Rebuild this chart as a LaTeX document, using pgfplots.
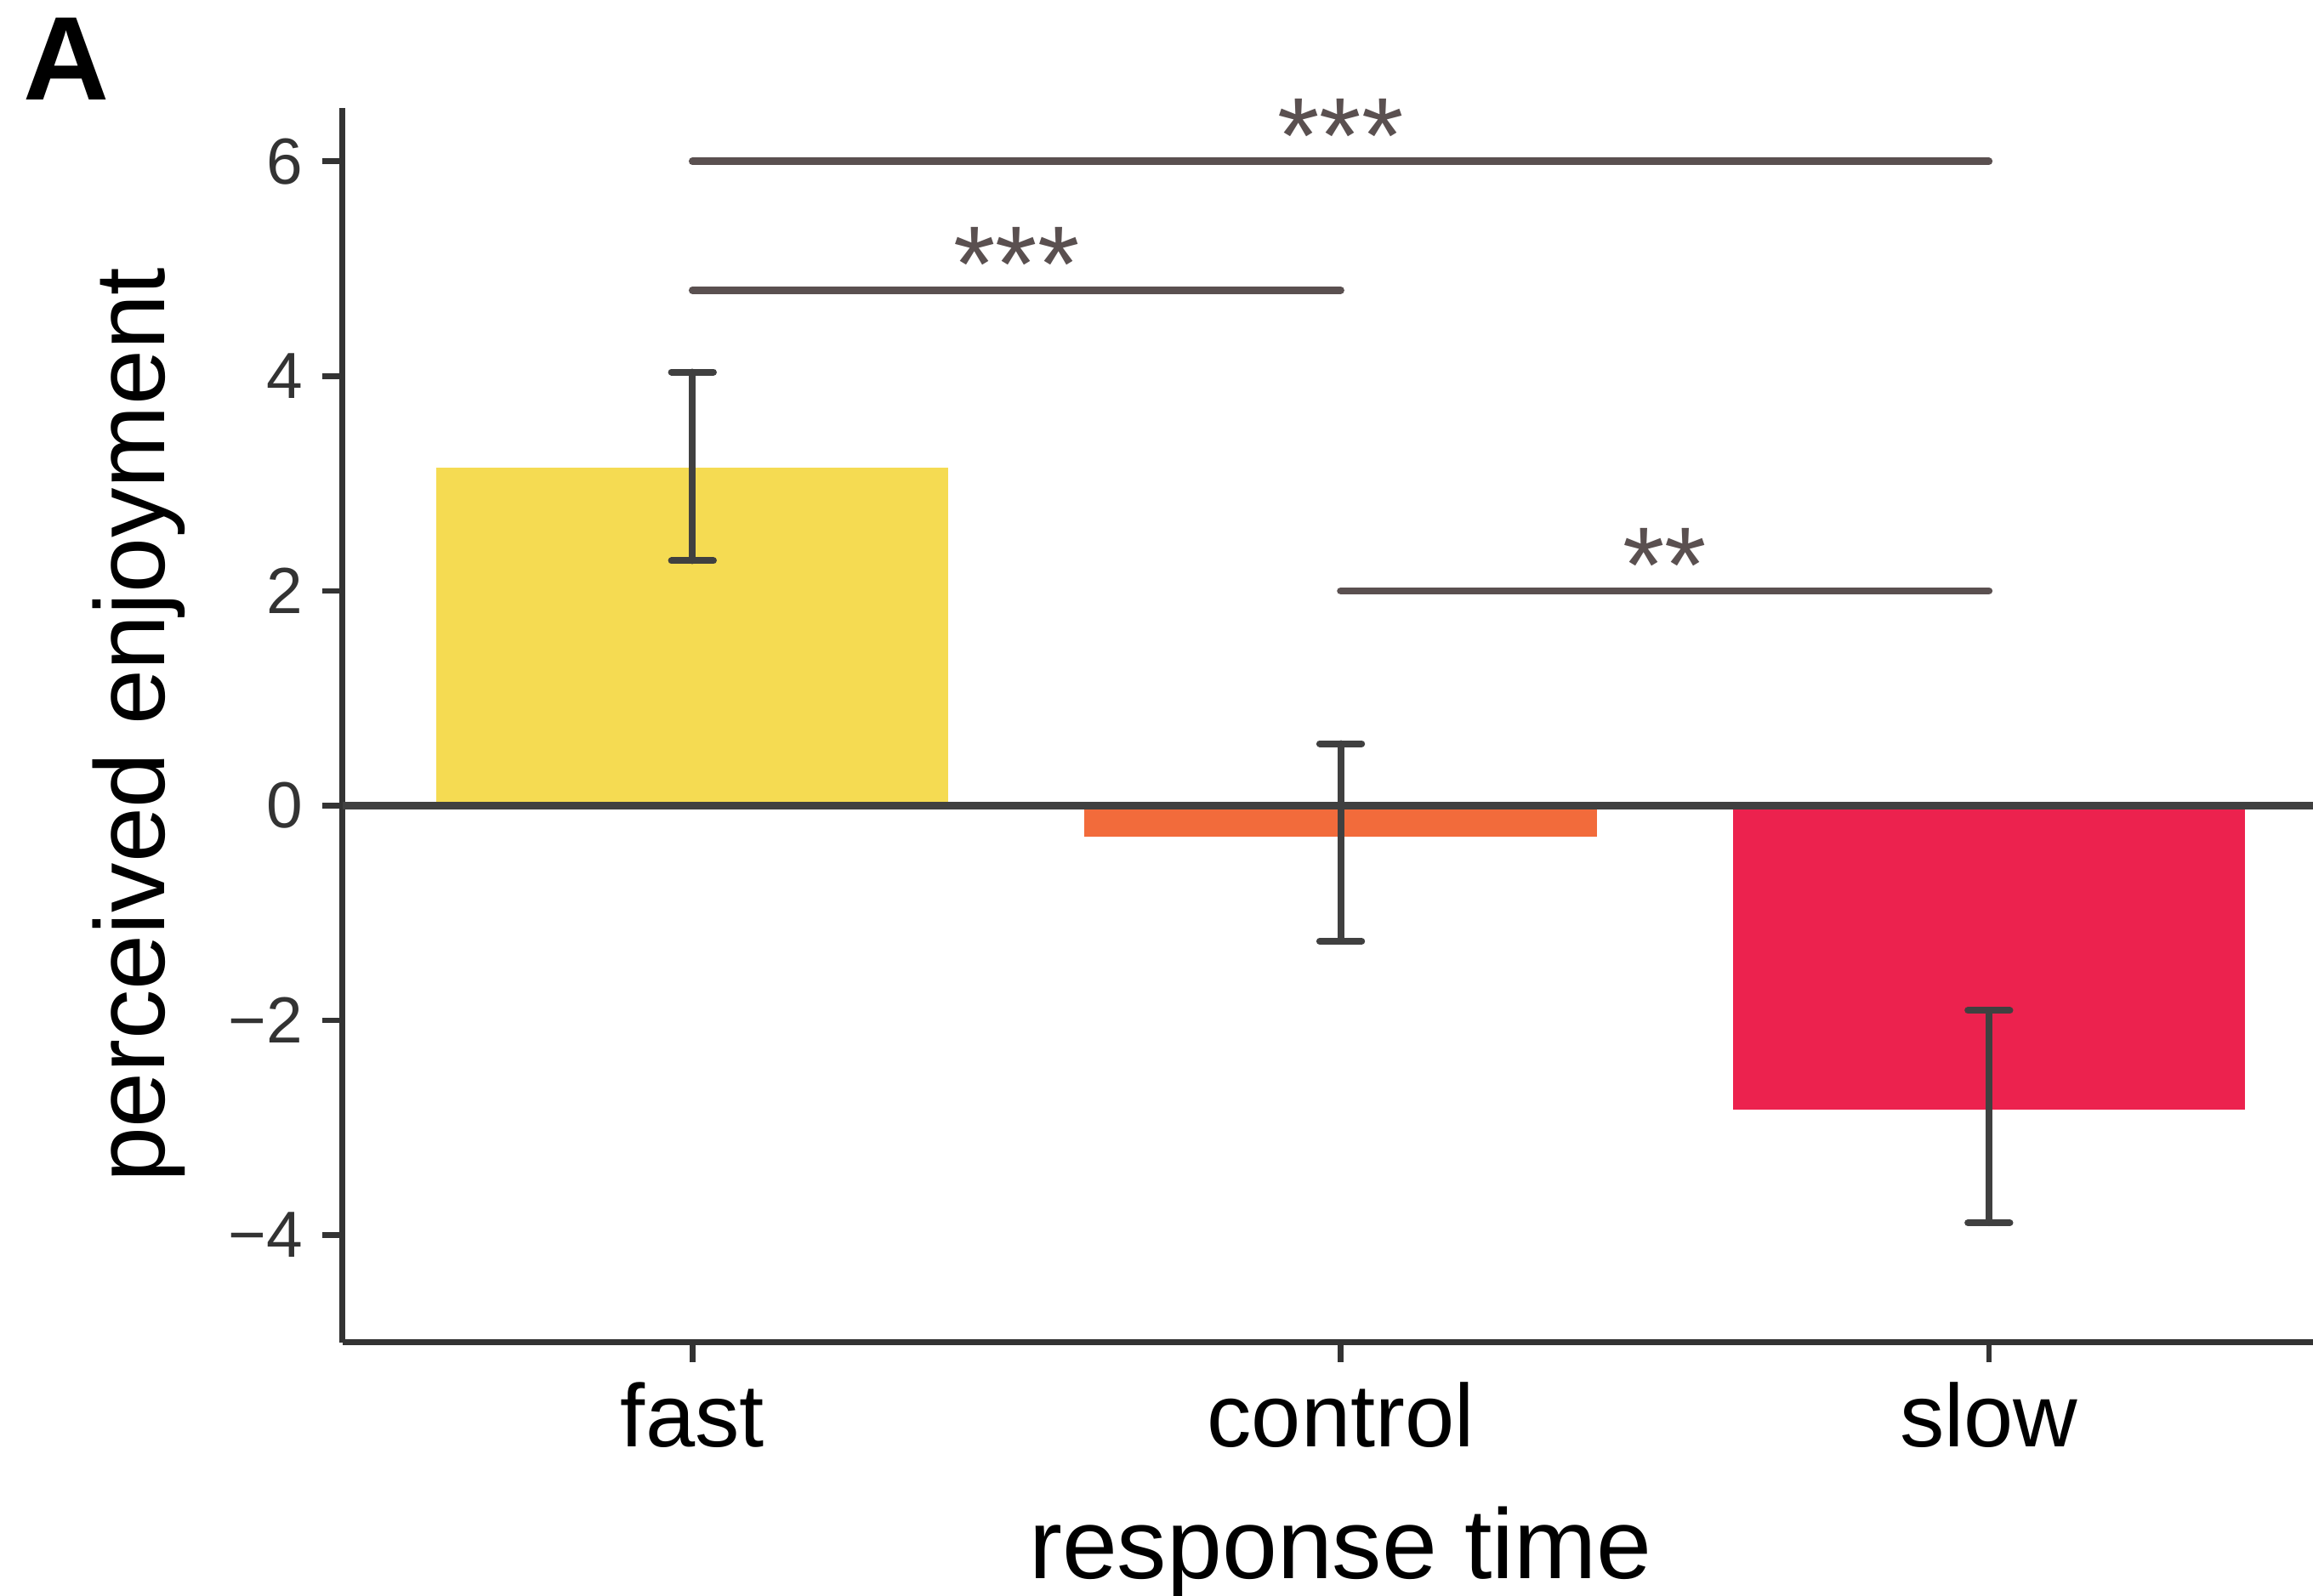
\documentclass[border=0pt]{standalone}
\usepackage{pgfplots}
\pgfplotsset{compat=1.18}
\usepackage{fontspec}
\setmainfont{Liberation Sans}
\definecolor{cyel}{HTML}{F5DB52}
\definecolor{cora}{HTML}{F26B3B}
\definecolor{cred}{HTML}{EC224E}
\definecolor{cax}{HTML}{333333}
\definecolor{cerr}{HTML}{404040}
\definecolor{csig}{HTML}{5A5050}
\begin{document}
\begin{tikzpicture}
\begin{axis}[
  at={(0,0)}, anchor=south west,
  scale only axis, width=347.6pt, height=217.8pt,
  xmin=-0.54, xmax=2.5, ymin=-5, ymax=6.5,
  axis x line*=bottom, axis y line*=left,
  axis line style={draw=cax, line width=1pt, -},
  xtick={0,1,2}, xticklabels={fast,control,slow},
  ytick={-4,-2,0,2,4,6}, yticklabels={−4,−2,0,2,4,6},
  tick align=outside, major tick length=3.5pt,
  tick style={draw=cax, line width=1pt},
  xticklabel style={font=\fontsize{15.7}{16}\selectfont, text=black},
  yticklabel style={font=\fontsize{11.5}{12}\selectfont, text=cax},
  clip=false,
]
\addplot[ybar, bar width=0.79, bar shift=0pt, fill=cyel, draw=none] coordinates {(0,3.146)};
\addplot[ybar, bar width=0.79, bar shift=0pt, fill=cora, draw=none] coordinates {(1,-0.288)};
\addplot[ybar, bar width=0.79, bar shift=0pt, fill=cred, draw=none] coordinates {(2,-2.83)};
\addplot[cerr, line width=1.3pt, mark=none] coordinates {(-0.54,0) (2.5,0)};
\addplot[draw=none, mark=none, forget plot,
  error bars/.cd, y dir=both, y explicit,
  error bar style={draw=cerr, line width=1.2pt, line cap=round},
  error mark options={rotate=90, mark size=3.7pt, line width=1.2pt, draw=cerr, line cap=round}]
  coordinates {
  (0,3.146) += (0,0.892) -= (0,0.866)
  (1,-0.288) += (0,0.865) -= (0,0.976)
  (2,-2.83) += (0,0.921) -= (0,1.057)
  };
\addplot[csig, line width=1.3pt, mark=none, line cap=round] coordinates {(0,6) (2,6)};
\addplot[csig, line width=1.3pt, mark=none, line cap=round] coordinates {(0,4.8) (1,4.8)};
\addplot[csig, line width=1.3pt, mark=none, line cap=round] coordinates {(1,2) (2,2)};
\node[anchor=base, text=csig, font=\fontsize{19}{20}\selectfont, yshift=-2.0pt] at (axis cs:1,6) {***};
\node[anchor=base, text=csig, font=\fontsize{19}{20}\selectfont, yshift=-2.0pt] at (axis cs:0.5,4.8) {***};
\node[anchor=base, text=csig, font=\fontsize{19}{20}\selectfont, yshift=-2.0pt] at (axis cs:1.5,2) {**};
\node[anchor=base west, font=\bfseries\fontsize{21}{22}\selectfont] at ([xshift=-59.8pt, yshift=1.3pt]axis description cs:0,1) {A};
\node[anchor=base, font=\fontsize{17.5}{18}\selectfont] at ([yshift=-41.6pt]axis description cs:0.5066,0) {response time};
\node[rotate=90, anchor=base, font=\fontsize{17.5}{18}\selectfont] at ([xshift=-31.3pt]axis description cs:0,0.5) {perceived enjoyment};
\end{axis}
\pgfresetboundingbox
\path[use as bounding box] (-60.4pt,-44.7pt) rectangle (347.6pt,236.8pt);
\end{tikzpicture}
\end{document}
